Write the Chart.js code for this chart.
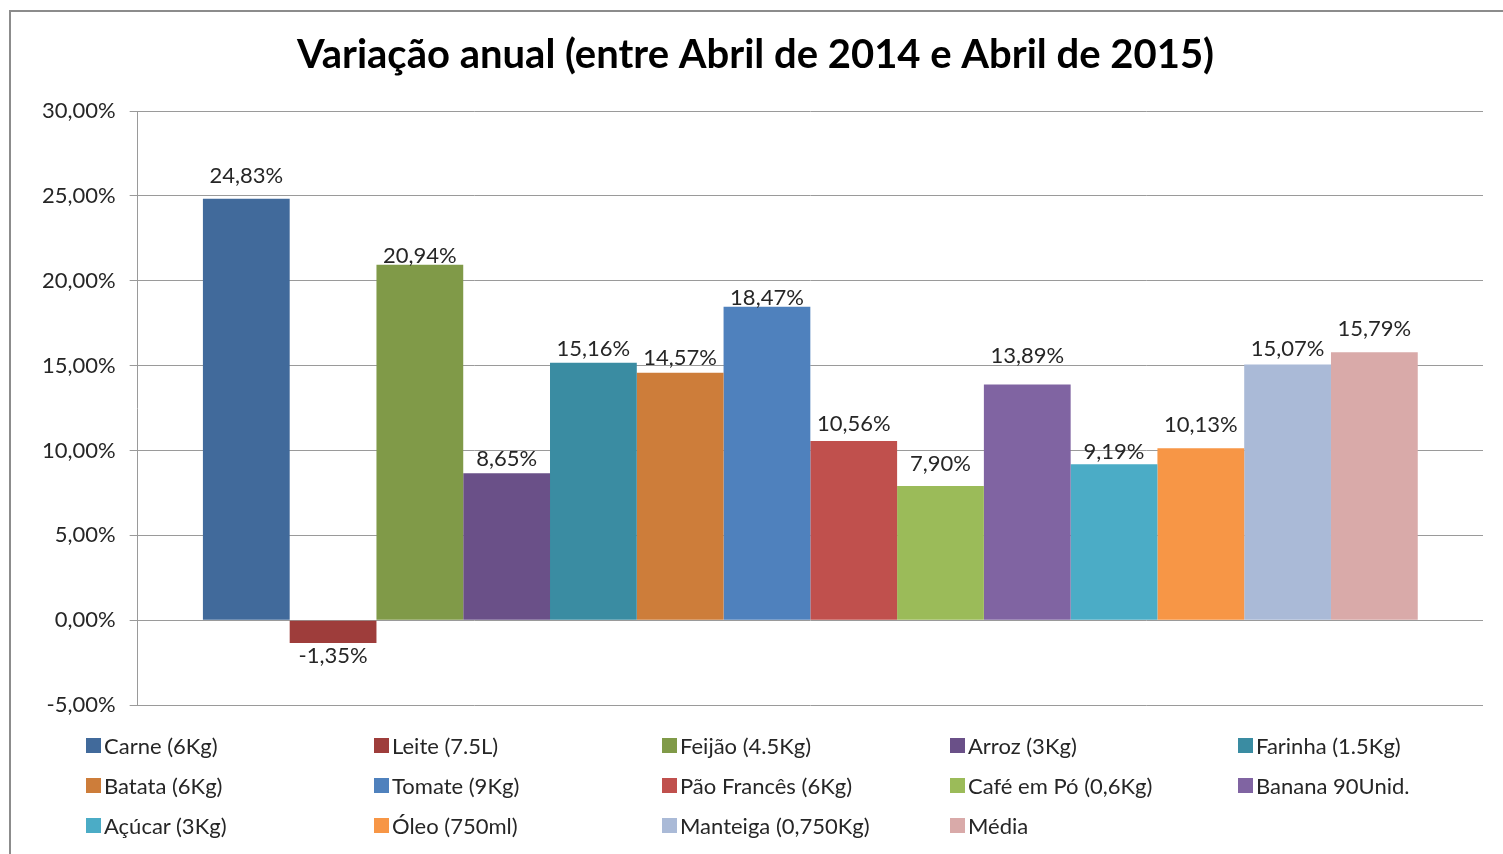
<!DOCTYPE html>
<html>
<head>
<meta charset="utf-8">
<script src="https://cdn.jsdelivr.net/npm/chart.js@4"></script>
<style>
  body { margin: 0; background: #fff; }
  #wrap { position: relative; width: 1503px; height: 854px; overflow: hidden; font-family: Lato, "Open Sans", sans-serif; }
  #frame { position: absolute; left: 9px; top: 10px; width: 1700px; height: 1000px; border: 2px solid #8c8c8c; box-sizing: border-box; }
  canvas { position: absolute; left: 0; top: 0; }
  #legend { position: absolute; left: 86px; top: 725px; display: grid; grid-template-columns: repeat(5, 288px); grid-auto-rows: 40px; }
  .item { display: flex; align-items: center; font-size: 22px; color: #262626; white-space: nowrap; }
  .sw { width: 15px; height: 15px; margin-right: 3px; flex: none; }
</style>
</head>
<body>
<div id="wrap">
  <div id="frame"></div>
  <canvas class="js-graph" width="1503" height="854"></canvas>
  <div id="legend" class="js-legend"></div>
</div>
<script>
const title_text = "Variação anual (entre Abril de 2014 e Abril de 2015)";
const series_names = [
  "Carne (6Kg)", "Leite (7.5L)", "Feijão (4.5Kg)", "Arroz (3Kg)", "Farinha (1.5Kg)",
  "Batata (6Kg)", "Tomate (9Kg)", "Pão Francês (6Kg)", "Café em Pó (0,6Kg)", "Banana 90Unid.",
  "Açúcar (3Kg)", "Óleo (750ml)", "Manteiga (0,750Kg)", "Média"
];
const series_values = [24.83, -1.35, 20.94, 8.65, 15.16, 14.57, 18.47, 10.56, 7.90, 13.89, 9.19, 10.13, 15.07, 15.79];
const series_colors = [
  "#416a9b", "#9e3d3b", "#809a48", "#6a5088", "#3a8ca2",
  "#cd7d3a", "#4f81bd", "#c0504d", "#9bbb59", "#8064a2",
  "#4bacc6", "#f79646", "#aabad7", "#d9aaa9"
];
const y_ticks = [-5, 0, 5, 10, 15, 20, 25, 30];
// gap (px) between bar end and value label centre, as placed in the original
const label_gaps = [23, 13, 9, 14, 14, 15, 9, 17, 22, 29, 12, 23, 15, 23];

const fmt = (v) => v.toFixed(2).replace(".", ",") + "%";
const font_name = "Lato, 'Open Sans', sans-serif";

const value_labels = {
  id: "value_labels",
  afterDatasetsDraw(chart) {
    const ctx = chart.ctx;
    ctx.save();
    ctx.font = "22px " + font_name;
    ctx.fillStyle = "#262626";
    ctx.textAlign = "center";
    ctx.textBaseline = "middle";
    chart.data.datasets.forEach((ds, i) => {
      const bar = chart.getDatasetMeta(i).data[0];
      const v = ds.data[0];
      const gap = label_gaps[i];
      ctx.fillText(fmt(v), bar.x, v >= 0 ? bar.y - gap : bar.y + gap);
    });
    ctx.restore();
  }
};

const draw_chart = () => {
  const ctx = document.querySelector(".js-graph").getContext("2d");
  const datasets = series_names.map((name, i) => ({
    label: name,
    data: [series_values[i]],
    backgroundColor: series_colors[i],
    borderWidth: 0,
    barPercentage: 1,
    categoryPercentage: 0.903
  }));

  new Chart(ctx, {
    type: "bar",
    data: { labels: [""], datasets: datasets },
    plugins: [value_labels],
    options: {
      responsive: false,
      animation: false,
      layout: { padding: { left: 28, right: 20, top: 0, bottom: 149 } },
      scales: {
        x: { display: false },
        y: {
          min: -5,
          max: 30,
          afterBuildTicks: (axis) => { axis.ticks = y_ticks.map((v) => ({ value: v })); },
          ticks: {
            callback: (v) => fmt(v),
            font: { family: font_name, size: 22 },
            color: "#262626",
            padding: 14
          },
          grid: { color: "#9a9a9a", tickLength: 8, lineWidth: 1 },
          border: { color: "#9a9a9a" }
        }
      },
      plugins: {
        legend: { display: false },
        tooltip: { enabled: false },
        title: {
          display: true,
          text: title_text,
          color: "#000",
          font: { family: font_name, size: 40, weight: "bold" },
          padding: { top: 31, bottom: 32 }
        }
      }
    }
  });

  const $legend = document.querySelector(".js-legend");
  series_names.forEach((name, i) => {
    const item = document.createElement("div");
    item.className = "item";
    const sw = document.createElement("span");
    sw.className = "sw";
    sw.style.background = series_colors[i];
    item.appendChild(sw);
    item.appendChild(document.createTextNode(name));
    $legend.appendChild(item);
  });
};

draw_chart();
</script>
</body>
</html>
